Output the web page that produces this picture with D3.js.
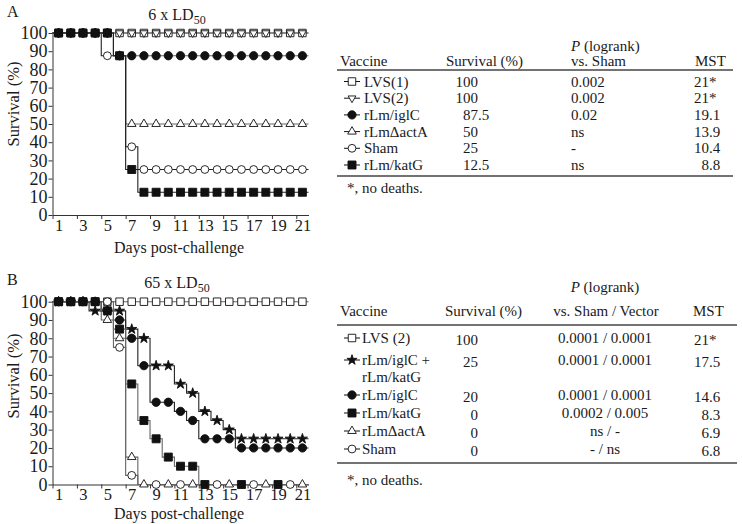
<!DOCTYPE html>
<html><head><meta charset="utf-8">
<script src="https://cdn.jsdelivr.net/npm/d3@7"></script>
<style>
body{margin:0;background:#fff}
svg{display:block}
text{font-family:"Liberation Serif","Times New Roman",serif;fill:#1a1a1a}
</style>
</head><body><svg id="c" width="742" height="524"></svg>
<script>
// ---------- data ----------
const days = [1,2,3,4,5,6,7,8,9,10,11,12,13,14,15,16,17,18,19,20,21];
const dayLabels = [1,3,5,7,9,11,13,15,17,19,21];
const dayTicks = [0.5,2.5,4.5,6.5,8.5,10.5,12.5,14.5,16.5,18.5,20.5];
const yTicks = [0,10,20,30,40,50,60,70,80,90,100];

// Panel A: 6 x LD50
const A_lvs1 = [100,100,100,100,100,100,100,100,100,100,100,100,100,100,100,100,100,100,100,100,100];
const A_lvs2 = [100,100,100,100,100,100,100,100,100,100,100,100,100,100,100,100,100,100,100,100,100];
const A_iglC = [100,100,100,100,100,87.5,87.5,87.5,87.5,87.5,87.5,87.5,87.5,87.5,87.5,87.5,87.5,87.5,87.5,87.5,87.5];
const A_actA = [100,100,100,100,100,87.5,50,50,50,50,50,50,50,50,50,50,50,50,50,50,50];
const A_sham = [100,100,100,100,87.5,87.5,37.5,25,25,25,25,25,25,25,25,25,25,25,25,25,25];
const A_katG = [100,100,100,100,100,87.5,25,12.5,12.5,12.5,12.5,12.5,12.5,12.5,12.5,12.5,12.5,12.5,12.5,12.5,12.5];

// Panel B: 65 x LD50
const B_lvs2  = [100,100,100,100,100,100,100,100,100,100,100,100,100,100,100,100,100,100,100,100,100];
const B_combo = [100,100,100,95,95,95,85,80,65,65,55,50,40,35,30,25,25,25,25,25,25];
const B_iglC  = [100,100,100,100,95,90,80,65,45,45,40,35,25,25,25,20,20,20,20,20,20];
const B_katG  = [100,100,100,100,95,85,55,35,25,15,10,10,0,0,0,0,0,0,0,0,0];
const B_actA  = [100,100,100,100,90,80,15,0,0,0,0,0,0,0,0,0,0,0,0,0,0];
const B_sham  = [100,100,100,100,100,75,5,0,0,0,0,0,0,0,0,0,0,0,0,0,0];
// days on which a marker is shown where curves overlap at 0 %
const B_katG_zeroMarks = [13,16,19];
const B_actA_zeroMarks = [8,10,12,15,18,21];
const B_sham_zeroMarks = [9,11,14,17,20];

// Tables
const A_tabVaccine  = ["LVS(1)","LVS(2)","rLm/iglC","rLm\u0394actA","Sham","rLm/katG"];
const A_tabSurvival = ["100","100","87.5","50","25","12.5"];
const A_tabP        = ["0.002","0.002","0.02","ns","-","ns"];
const A_tabMST      = ["21*","21*","19.1","13.9","10.4","8.8"];

const B_tabVaccine  = [["LVS (2)"],["rLm/iglC +","rLm/katG"],["rLm/iglC"],["rLm/katG"],["rLm\u0394actA"],["Sham"]];
const B_tabSurvival = ["100","25","20","0","0","0"];
const B_tabP        = ["0.0001 / 0.0001","0.0001 / 0.0001","0.0001 / 0.0001","0.0002 / 0.005","ns / -","- / ns"];
const B_tabMST      = ["21*","17.5","14.6","8.3","6.9","6.8"];

// ---------- drawing ----------
const svg = d3.select("#c");
const DARK = "#222", GRAY = "#666";

const sym = {
  sqOpen:  {type: d3.symbolSquare,   size: 56, fill: "#fff", rot: 0},
  sqFill:  {type: d3.symbolSquare,   size: 64, fill: "#111", rot: 0},
  triUp:   {type: d3.symbolTriangle, size: 32, fill: "#fff", rot: 0},
  triDown: {type: d3.symbolTriangle, size: 26, fill: "#fff", rot: 180},
  cirOpen: {type: d3.symbolCircle,   size: 48, fill: "#fff", rot: 0},
  cirFill: {type: d3.symbolCircle,   size: 54, fill: "#111", rot: 0},
  star:    {type: d3.symbolStar,     size: 32, fill: "#111", rot: 0}
};

function drawMarker(g, s, cx, cy) {
  g.append("path")
    .attr("d", d3.symbol().type(s.type).size(s.size)())
    .attr("transform", `translate(${cx},${cy}) rotate(${s.rot})`)
    .attr("fill", s.fill).attr("stroke", "#111").attr("stroke-width", 0.9);
}

function panel(cfg) {
  const x = d3.scaleLinear().domain([0.5, 21.5]).range([52.5, 308.5]);
  const y = d3.scaleLinear().domain([0, 100]).range([cfg.y0, cfg.y100]);
  const g = svg.append("g");

  // axes
  const ax = g.append("g").attr("transform", `translate(0,${cfg.y0})`)
    .call(d3.axisBottom(x).tickValues(dayTicks).tickSize(4).tickSizeOuter(0).tickFormat(""));
  ax.select(".domain").attr("stroke", "#333");
  ax.selectAll(".tick line").attr("stroke", "#333");
  const axl = g.append("g").attr("transform", `translate(0,${cfg.y0})`)
    .call(d3.axisBottom(x).tickValues(dayLabels).tickSize(0).tickPadding(4));
  axl.select(".domain").remove();
  axl.selectAll("text").style("font-size", "16.5px").style("font-family", "Liberation Serif").attr("fill", "#1a1a1a");

  const ay = g.append("g").attr("transform", `translate(${x(0.5)},0)`)
    .call(d3.axisLeft(y).tickValues(yTicks).tickSize(4).tickSizeOuter(0).tickPadding(1));
  ay.select(".domain").attr("stroke", "#333");
  ay.selectAll(".tick line").attr("stroke", "#333");
  ay.selectAll("text").style("font-size", "18px").style("font-family", "Liberation Serif").attr("fill", "#1a1a1a");

  // titles
  g.append("text").attr("x", 7).attr("y", cfg.letterY).style("font-size", "16px").text(cfg.letter);
  const t = g.append("text").attr("x", 177).attr("y", cfg.titleY).attr("text-anchor", "middle").style("font-size", "16px");
  t.append("tspan").text(cfg.title);
  t.append("tspan").attr("dy", 4).style("font-size", "12px").text("50");
  g.append("text").attr("transform", `translate(19,${cfg.ylabY}) rotate(-90)`)
    .attr("text-anchor", "middle").style("font-size", "16.5px").text("Survival (%)");
  g.append("text").attr("x", 179).attr("y", cfg.xlabY).attr("text-anchor", "middle")
    .style("font-size", "16px").text("Days post-challenge");

  // step lines
  const line = d3.line().curve(d3.curveStep).x(d => x(d[0])).y(d => y(d[1]));
  cfg.series.forEach(s => {
    const pts = [[0.5, s.v[0]]].concat(days.map((d, i) => [d, s.v[i]]), [[21.5, s.v[20]]]);
    g.append("path").attr("d", line(pts)).attr("fill", "none")
      .attr("stroke", s.stroke).attr("stroke-width", 1.1);
  });
  // markers
  cfg.series.forEach(s => {
    const mg = g.append("g");
    days.forEach((d, i) => {
      const v = s.v[i];
      if (v === 0 && s.zero && !s.zero.includes(d)) return;
      s.marks.forEach(m => drawMarker(mg, m, x(d), y(v)));
    });
  });
}

panel({
  letter: "A", letterY: 17, title: "6 x LD", titleY: 20, y0: 215, y100: 33, ylabY: 104, xlabY: 253,
  series: [
    {v: A_lvs1, stroke: GRAY, marks: [sym.sqOpen]},
    {v: A_lvs2, stroke: GRAY, marks: [sym.triDown]},
    {v: A_actA, stroke: GRAY, marks: [sym.triUp]},
    {v: A_sham, stroke: DARK, marks: [sym.cirOpen]},
    {v: A_iglC, stroke: GRAY, marks: [sym.cirFill]},
    {v: A_katG, stroke: DARK, marks: [sym.sqFill]}
  ]
});

panel({
  letter: "B", letterY: 285, title: "65 x LD", titleY: 288, y0: 484.5, y100: 301.7, ylabY: 376, xlabY: 519,
  series: [
    {v: B_lvs2,  stroke: GRAY, marks: [sym.sqOpen]},
    {v: B_sham,  stroke: GRAY, marks: [sym.cirOpen], zero: B_sham_zeroMarks},
    {v: B_actA,  stroke: GRAY, marks: [sym.triUp], zero: B_actA_zeroMarks},
    {v: B_iglC,  stroke: DARK, marks: [sym.cirFill]},
    {v: B_combo, stroke: DARK, marks: [sym.star]},
    {v: B_katG,  stroke: GRAY, marks: [sym.sqFill], zero: B_katG_zeroMarks}
  ]
});

// ---------- tables ----------
function legendSym(g, marks, cy) {
  g.append("line").attr("x1", 344).attr("x2", 360).attr("y1", cy).attr("y2", cy)
    .attr("stroke", "#111").attr("stroke-width", 1);
  marks.forEach(m => drawMarker(g, m, 352, cy));
}
function decimalText(g, str, xInt, yb) {
  const parts = str.split(".");
  g.append("text").attr("x", xInt).attr("y", yb).attr("text-anchor", "end").text(parts[0].replace("*", ""));
  const rest = (parts.length > 1 ? "." + parts[1] : "") + (str.includes("*") ? "*" : "");
  if (rest) g.append("text").attr("x", xInt).attr("y", yb).text(rest);
}

// Table A
(function() {
  const g = svg.append("g").style("font-size", "15px");
  const t = g.append("text").attr("x", 571).attr("y", 51);
  t.append("tspan").style("font-style", "italic").text("P");
  t.append("tspan").text(" (logrank)");
  g.append("text").attr("x", 340).attr("y", 66).text("Vaccine");
  g.append("text").attr("x", 446).attr("y", 66).text("Survival (%)");
  g.append("text").attr("x", 571).attr("y", 66).text("vs. Sham");
  g.append("text").attr("x", 695).attr("y", 66).text("MST");
  g.append("line").attr("x1", 337).attr("x2", 733).attr("y1", 70).attr("y2", 70).attr("stroke", "#444").attr("stroke-width", 1.5);
  const marks = [[sym.sqOpen],[sym.triDown],[sym.cirFill],[sym.triUp],[sym.cirOpen],[sym.sqFill]];
  A_tabVaccine.forEach((v, i) => {
    const yb = 86.5 + i * 16.7;
    legendSym(g, marks[i], yb - 5);
    g.append("text").attr("x", 364).attr("y", yb).text(v);
    decimalText(g, A_tabSurvival[i], 478, yb);
    g.append("text").attr("x", 571).attr("y", yb).text(A_tabP[i]);
    decimalText(g, A_tabMST[i], 709, yb);
  });
  g.append("line").attr("x1", 337).attr("x2", 733).attr("y1", 176).attr("y2", 176).attr("stroke", "#444").attr("stroke-width", 1.5);
  g.append("text").attr("x", 347).attr("y", 193).text("*, no deaths.");
})();

// Table B
(function() {
  const g = svg.append("g").style("font-size", "15px");
  const t = g.append("text").attr("x", 605).attr("y", 292).attr("text-anchor", "middle");
  t.append("tspan").style("font-style", "italic").text("P");
  t.append("tspan").text(" (logrank)");
  g.append("text").attr("x", 340).attr("y", 316).text("Vaccine");
  g.append("text").attr("x", 445).attr("y", 316).text("Survival (%)");
  g.append("text").attr("x", 606).attr("y", 316).attr("text-anchor", "middle").text("vs. Sham / Vector");
  g.append("text").attr("x", 693).attr("y", 316).text("MST");
  g.append("line").attr("x1", 337).attr("x2", 737).attr("y1", 325).attr("y2", 325).attr("stroke", "#444").attr("stroke-width", 1.5);
  const marks = [[sym.sqOpen],[sym.star],[sym.cirFill],[sym.sqFill],[sym.triUp],[sym.cirOpen]];
  const rowY = [343, 365, 400, 418, 436, 454];
  B_tabVaccine.forEach((lines, i) => {
    const yb = rowY[i];
    legendSym(g, marks[i], yb - 5);
    lines.forEach((l, k) => g.append("text").attr("x", 362).attr("y", yb + k * 16.5).text(l));
    g.append("text").attr("x", 478).attr("y", yb + 2).attr("text-anchor", "end").text(B_tabSurvival[i]);
    g.append("text").attr("x", 605).attr("y", yb).attr("text-anchor", "middle").text(B_tabP[i]);
    decimalText(g, B_tabMST[i], 709, yb + 2);
  });
  g.append("line").attr("x1", 337).attr("x2", 737).attr("y1", 463).attr("y2", 463).attr("stroke", "#444").attr("stroke-width", 1.5);
  g.append("text").attr("x", 347).attr("y", 485).text("*, no deaths.");
})();
</script>
</body></html>
